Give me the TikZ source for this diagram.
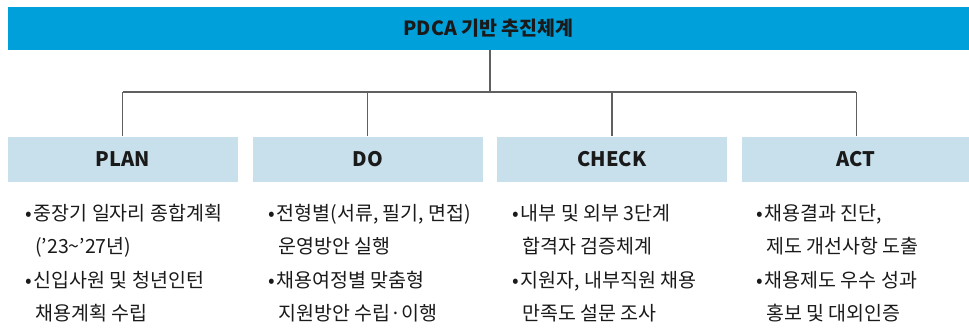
\documentclass[tikz,border=0pt]{standalone}
\usepackage{fontspec}
\setmainfont{Noto Sans CJK KR}
\newfontfamily\krfont{Noto Sans CJK KR}
\definecolor{topblue}{HTML}{00A0DB}
\definecolor{hdrblue}{HTML}{C8E0EC}
\definecolor{linegray}{HTML}{606060}
\definecolor{txt}{HTML}{1A1A1A}
\begin{document}
\begin{tikzpicture}[x=1pt,y=-1pt,
  topbar/.style={fill=topblue,draw=none,inner sep=0pt,minimum width=961pt,minimum height=43pt,font=\krfont\fontsize{19.5}{22}\selectfont\bfseries,text=txt},
  hdrbox/.style={fill=hdrblue,draw=none,inner sep=0pt,minimum width=229.5pt,minimum height=45pt,font=\krfont\fontsize{20}{22}\selectfont\bfseries,text=txt},
  conn/.style={draw=linegray,line width=1.1pt},
  item/.style={anchor=base west,inner sep=0pt,font=\krfont\fontsize{19.5}{22}\selectfont,text=txt}
]
\useasboundingbox (0,0) rectangle (969,327);
\node[topbar] (top) at (488.5,28.5) {PDCA 기반 추진체계};
\node[hdrbox] (plan) at (122.75,159) {PLAN};
\node[hdrbox] (do) at (367.75,159) {DO};
\node[hdrbox] (check) at (612,159) {CHECK};
\node[hdrbox] (act) at (856.25,159) {ACT};
\coordinate (hub) at (490,92);
\draw[conn] (top.south -| hub) -- (hub);
\draw[conn] (plan.north |- hub) -- (act.north |- hub);
\foreach \n in {plan,do,check,act}{
  \draw[conn] (\n.north |- hub) -- (\n.north);
}
% PLAN
\node[item] (p1) at (25,220) {•\kern2pt 중장기 일자리 종합계획};
\node[item] (p2) at (35,253.5) {(’23\textasciitilde’27년)};
\node[item] (p3) at (25,287) {•\kern2pt 신입사원 및 청년인턴};
\node[item] (p4) at (35,320.5) {채용계획 수립};
% DO
\node[item] (d1) at (268,220) {•\kern2pt 전형별(서류, 필기, 면접)};
\node[item] (d2) at (278,253.5) {운영방안 실행};
\node[item] (d3) at (268,287) {•\kern2pt 채용여정별 맞춤형};
\node[item] (d4) at (278,320.5) {지원방안 수립·이행};
% CHECK
\node[item] (c1) at (512,220) {•\kern2pt 내부 및 외부 3단계};
\node[item] (c2) at (522,253.5) {합격자 검증체계};
\node[item] (c3) at (512,287) {•\kern2pt 지원자, 내부직원 채용};
\node[item] (c4) at (522,320.5) {만족도 설문 조사};
% ACT
\node[item] (a1) at (756,220) {•\kern2pt 채용결과 진단,};
\node[item] (a2) at (766,253.5) {제도 개선사항 도출};
\node[item] (a3) at (756,287) {•\kern2pt 채용제도 우수 성과};
\node[item] (a4) at (766,320.5) {홍보 및 대외인증};
\end{tikzpicture}
\end{document}
